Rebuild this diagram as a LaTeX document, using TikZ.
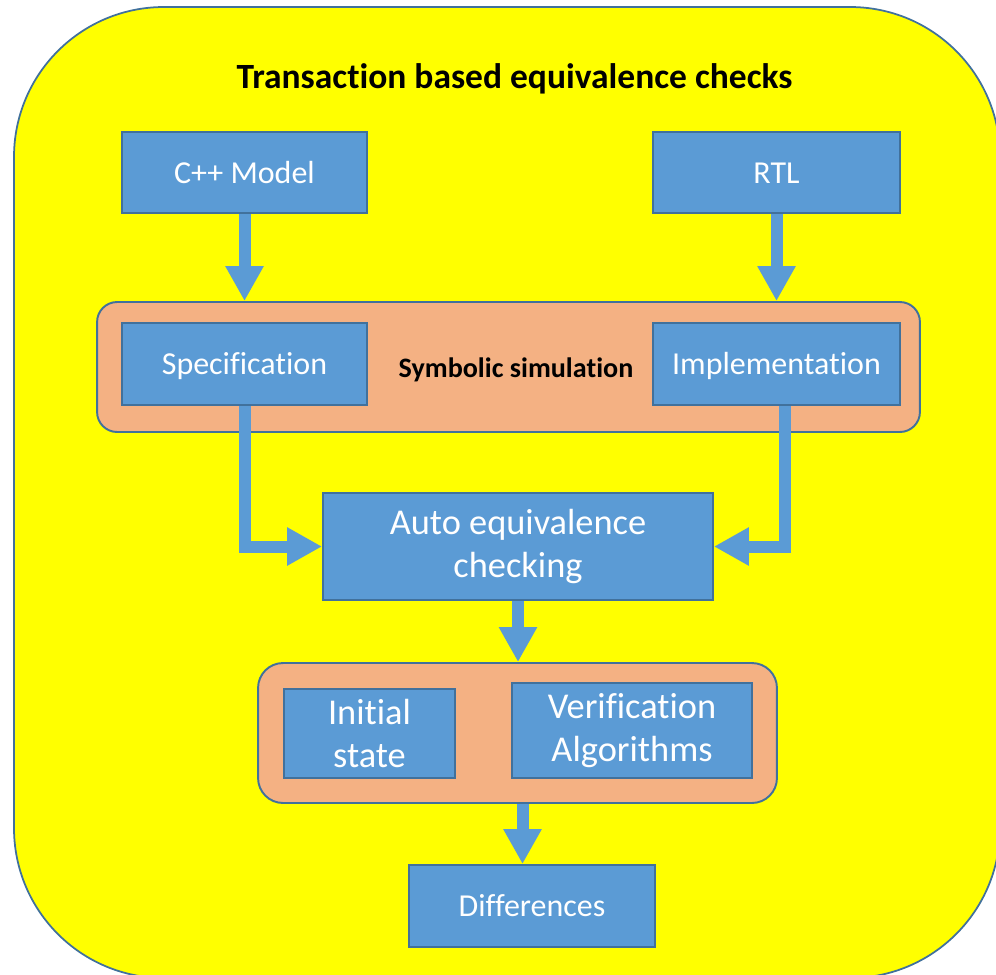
\documentclass[tikz,border=0pt]{standalone}
\usepackage{fontspec}
\setmainfont{Carlito}[RawFeature=-liga, RawFeature=-clig, RawFeature=-dlig]
\usetikzlibrary{arrows.meta}
\definecolor{boxblue}{HTML}{5B9BD5}
\definecolor{edgeblue}{HTML}{41719C}
\definecolor{salmon}{HTML}{F4B183}
\definecolor{bgyellow}{HTML}{FFFF00}
\begin{document}
\begin{tikzpicture}[x=0.02cm,y=-0.02cm,
  bluebox/.style={draw=edgeblue, fill=boxblue, line width=1.1pt, text=white,
    inner sep=0pt, align=center, font=\fontsize{18.2}{22}\selectfont,
    text height=15.1pt, text depth=3pt},
  bigbox/.style={draw=edgeblue, fill=boxblue, line width=1.1pt, text=white,
    inner sep=0pt, align=center, font=\fontsize{20.7}{24.4}\selectfont},
  groupbox/.style={draw=edgeblue, fill=salmon, line width=1.1pt, inner sep=0pt},
  flow/.style={draw=boxblue, line width=0.24cm, line join=miter,
    -{Triangle[width=0.72cm,length=0.7cm]}}
]
\useasboundingbox (0,0) rectangle (996,974);
\clip (0,0) rectangle (996,974);
\path[fill=bgyellow, draw=edgeblue, line width=1pt, rounded corners=3cm] (14,7) rectangle (1000,978);

\node[anchor=base, inner sep=0pt] (title) at (514.5,88) {\fontsize{20.2}{24}\selectfont\bfseries Transaction based equivalence checks};

\node[bluebox, minimum width=4.9cm, minimum height=1.62cm] (cpp) at (244.5,172.5) {C++ Model};
\node[bluebox, minimum width=4.94cm, minimum height=1.62cm] (rtl) at (776.5,172.5) {RTL};

\node[groupbox, rounded corners=0.4cm, minimum width=16.46cm, minimum height=2.6cm] (sym) at (508.5,367) {};
\node[bluebox, minimum width=4.9cm, minimum height=1.64cm] (spec) at (244.5,364) {Specification};
\node[bluebox, minimum width=4.94cm, minimum height=1.64cm] (impl) at (776.5,364) {Implementation};
\node[anchor=base, inner sep=0pt, font=\fontsize{16}{19}\selectfont\bfseries] (symlabel) at (516,377) {Symbolic simulation};

\node[bigbox, minimum width=7.8cm, minimum height=2.14cm] (auto) at (518,546.5) {Auto equivalence\\checking};

\node[groupbox, rounded corners=0.5cm, minimum width=10.38cm, minimum height=2.8cm] (lower) at (517.5,733) {};
\node[bigbox, minimum width=3.42cm, minimum height=1.78cm] (init) at (369.5,733.5) {Initial\\state};
\node[bigbox, minimum width=4.8cm, minimum height=1.9cm] (verif) at (632,730.5) {Verification\\Algorithms};

\node[bluebox, minimum width=4.92cm, minimum height=1.64cm] (diff) at (532,906) {Differences};

\draw[flow] (cpp.south) -- (cpp.south |- sym.north);
\draw[flow] (rtl.south) -- (rtl.south |- sym.north);
\draw[flow] (spec.south) |- (auto.west);
\draw[flow] ([xshift=0.16cm]impl.south) |- (auto.east);
\draw[flow] (auto.south) -- (auto.south |- lower.north);
\draw[flow] ([xshift=0.1cm]lower.south) -- ([xshift=0.1cm]lower.south |- diff.north);
\end{tikzpicture}
\end{document}
